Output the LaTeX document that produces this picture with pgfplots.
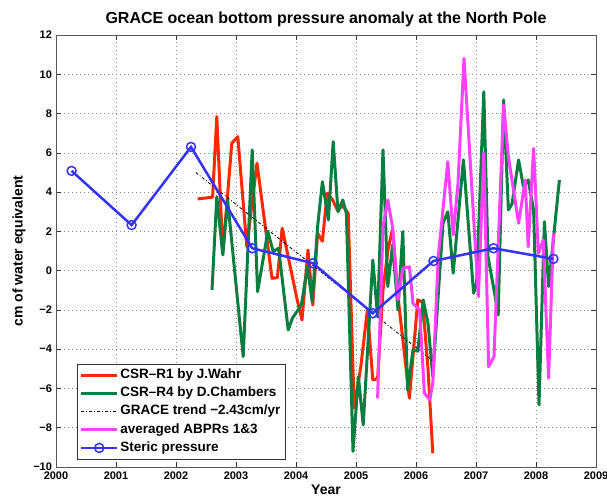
\documentclass[border=0pt]{standalone}
\usepackage{fontspec}
\setmainfont{Liberation Sans}
\usepackage{pgfplots}
\pgfplotsset{compat=1.18}
\definecolor{cred}{RGB}{255,40,0}
\definecolor{cgreen}{RGB}{10,125,65}
\definecolor{cmag}{RGB}{255,64,255}
\definecolor{cblue}{RGB}{51,51,255}
\begin{document}
\begin{tikzpicture}
\begin{axis}[
  scale only axis, width=540pt, height=432pt,
  xmin=2000, xmax=2009, ymin=-10, ymax=12,
  xtick={2000,2001,...,2009}, ytick={-10,-8,...,12},
  yticklabels={−10,−8,−6,−4,−2,0,2,4,6,8,10,12},
  grid=major, grid style={black!45, line width=0.6pt, dash pattern=on 0.6pt off 3.4pt},
  /pgf/number format/assume math mode=true,
  tick label style={font=\bfseries\fontsize{11}{13}\selectfont},
  x tick label style={/pgf/number format/1000 sep={}, yshift=-1pt},
  y tick label style={xshift=-0.5pt},
  xlabel={Year}, ylabel={cm of water equivalent},
  label style={font=\bfseries\fontsize{14}{16}\selectfont},
  xlabel style={yshift=1pt},
  ylabel style={yshift=1pt},
  title={GRACE ocean bottom pressure anomaly at the North Pole},
  title style={font=\bfseries\fontsize{16}{18}\selectfont, yshift=-1pt},
  major tick length=5pt, tick style={black!80, line width=0.5pt},
  axis line style={black!65, line width=0.6pt},
  legend cell align=left,
  legend image code/.code={\draw[mark repeat=2,mark phase=2,#1] plot coordinates {(0pt,0pt) (18pt,0pt) (36pt,0pt)};},
  legend style={at={(0.038,0.0185)}, anchor=south west, draw=black!80, line width=0.5pt,
    font=\bfseries\fontsize{13.5}{15}\selectfont,
    nodes={inner sep=1.5pt, text height=9.7pt, text depth=3pt},
    row sep=2.5pt, inner xsep=3pt, inner ysep=3pt},
]
\addplot[cred, line width=3pt, line join=round] coordinates {
(2002.36,3.65) (2002.61,3.74) (2002.68,7.84) (2002.78,0.9) (2002.93,6.49) (2003.03,6.82)
(2003.18,1.22) (2003.35,5.47) (2003.60,-0.39) (2003.69,-0.35) (2003.77,2.16) (2004.02,-1.49)
(2004.10,-2.51) (2004.20,1.05) (2004.28,-1.75) (2004.36,1.90) (2004.44,1.5) (2004.52,3.94)
(2004.61,3.6) (2004.69,3.09) (2004.78,3.3) (2004.87,2.92) (2004.97,-7.0) (2005.08,-4.89)
(2005.19,-2.0) (2005.28,-5.56) (2005.36,-5.5) (2005.45,-1.0) (2005.53,1.0) (2005.61,2.16)
(2005.70,-1.32) (2005.89,-6.50) (2006.03,-1.49) (2006.11,-1.6) (2006.20,-5.0) (2006.28,-9.30)
};
\addlegendentry{CSR–R1 by J.Wahr}
\addplot[cgreen, line width=3pt, line join=round] coordinates {
(2002.60,-0.98) (2002.68,3.77) (2002.78,0.80) (2002.86,3.60) (2003.12,-4.38) (2003.27,6.15)
(2003.36,-1.07) (2003.53,1.99) (2003.62,0.97) (2003.71,1.14) (2003.87,-3.02) (2003.94,-2.42)
(2004.09,-1.75) (2004.19,0.20) (2004.27,-1.58) (2004.36,2.24) (2004.44,4.53) (2004.54,2.58)
(2004.62,6.57) (2004.70,3.00) (2004.78,3.60) (2004.84,2.9) (2004.95,-9.20) (2005.04,-5.40)
(2005.12,-7.86) (2005.28,0.54) (2005.36,-2.34) (2005.45,6.15) (2005.53,-0.81) (2005.61,1.31)
(2005.70,-2.00) (2005.78,1.99) (2005.86,-6.07) (2005.95,-4.04) (2006.03,-4.1) (2006.12,-1.49)
(2006.20,-2.68) (2006.28,-5.40) (2006.45,2.41) (2006.53,3.00) (2006.62,-0.13) (2006.79,5.64)
(2006.96,-1.15) (2007.01,-0.64) (2007.13,9.11) (2007.20,0.71) (2007.31,-1.15) (2007.37,-2.26)
(2007.46,8.69) (2007.54,3.09) (2007.60,3.40) (2007.71,5.64) (2007.79,4.28) (2007.87,4.62)
(2007.96,3.09) (2008.05,-6.84) (2008.14,2.49) (2008.21,-0.81) (2008.39,4.62)
};
\addlegendentry{CSR–R4 by D.Chambers}
\addplot[black, line width=0.8pt, dash pattern=on 3pt off 2pt on 1pt off 2pt] coordinates {
(2002.33,5.00) (2006.27,-4.57)
};
\addlegendentry{GRACE trend −2.43cm/yr}
\addplot[cmag, line width=3pt, line join=round] coordinates {
(2005.36,-6.50) (2005.45,2.24) (2005.53,3.60) (2005.61,2.20) (2005.70,-1.49) (2005.78,0.12)
(2005.89,0.20) (2005.95,-1.66) (2006.06,-2.00) (2006.14,-6.24) (2006.23,-6.58) (2006.28,-5.73)
(2006.37,0.70) (2006.53,5.55) (2006.62,1.82) (2006.70,4.45) (2006.80,10.81) (2007.04,-1.32)
(2007.13,5.98) (2007.21,-4.89) (2007.30,-4.38) (2007.46,8.43) (2007.54,5.8) (2007.71,2.41)
(2007.82,4.62) (2007.87,1.22) (2007.96,6.23) (2008.04,0.88) (2008.12,1.56) (2008.21,-5.48)
(2008.29,1.90)
};
\addlegendentry{averaged ABPRs 1\&3}
\addplot[cblue, line width=2.5pt, mark=o, mark size=4.5pt, mark options={line width=1.5pt}] coordinates {
(2000.26,5.08) (2001.26,2.32) (2002.25,6.30) (2003.27,1.14) (2004.28,0.38) (2005.28,-2.17)
(2006.29,0.49) (2007.29,1.14) (2008.29,0.60)
};
\addlegendentry{Steric pressure}
\end{axis}
\pgfresetboundingbox
\useasboundingbox ([xshift=-56pt,yshift=-30pt]current axis.south west) rectangle ([xshift=11pt,yshift=35pt]current axis.north east);
\end{tikzpicture}
\end{document}
